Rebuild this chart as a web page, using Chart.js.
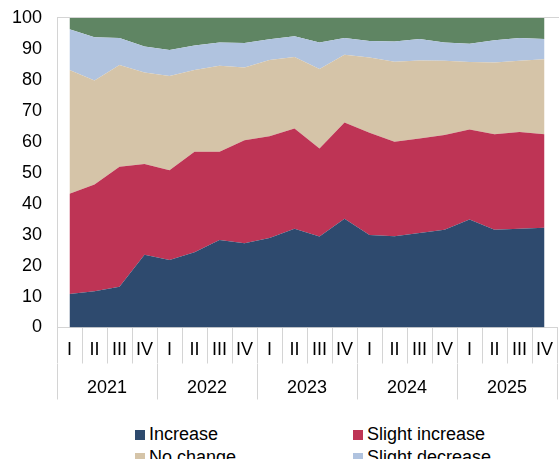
<!DOCTYPE html>
<html>
<head>
<meta charset="utf-8">
<script src="https://cdn.jsdelivr.net/npm/chart.js@4"></script>
<style>
  html, body { margin: 0; padding: 0; overflow: hidden; background: #fff; width: 559px; height: 459px; }
  #wrap { position: relative; width: 559px; height: 459px; }
  #chart { position: absolute; left: 0; top: 0; }
  #legend {
    position: absolute; left: 135px; top: 423px;
    display: grid; grid-template-columns: 218px 200px;
    font: 18px "Liberation Sans", Arial, sans-serif; color: #000;
  }
  .item { display: flex; align-items: center; height: 23px; line-height: 23px; white-space: nowrap; }
  .sw { width: 10px; height: 10px; margin-right: 4px; flex: none; }
</style>
</head>
<body>
<div id="wrap">
  <canvas id="chart" width="559" height="410"></canvas>
  <div id="legend"></div>
</div>
<script>
// Quarters and years on the two-level category axis
const years = ['2021', '2022', '2023', '2024', '2025'];
const quarters = ['I', 'II', 'III', 'IV'];
const yTicks = [0, 10, 20, 30, 40, 50, 60, 70, 80, 90, 100];

// Share of answers per quarter (%), stacked to 100
const increase       = [10.8, 11.7, 13.2, 23.5, 21.8, 24.3, 28.3, 27.2, 28.9, 31.9, 29.4, 35.1, 29.9, 29.5, 30.5, 31.6, 34.9, 31.6, 31.9, 32.2];
const slightIncrease = [32.4, 34.5, 38.7, 29.3, 29.0, 32.5, 28.5, 33.3, 32.9, 32.4, 28.4, 31.1, 33.0, 30.5, 30.6, 30.6, 29.1, 30.8, 31.3, 30.2];
const noChange       = [40.0, 33.6, 32.9, 29.6, 30.5, 26.4, 27.8, 23.5, 24.6, 23.1, 25.7, 21.9, 24.3, 25.9, 25.2, 24.0, 21.8, 23.2, 23.0, 24.3];
const slightDecrease = [13.2, 14.0,  8.7,  8.4,  8.4,  7.9,  7.5,  7.9,  6.7,  6.7,  8.6,  5.4,  5.4,  6.5,  6.9,  5.9,  5.9,  7.2,  7.3,  6.5];
const decrease       = [ 3.6,  6.2,  6.5,  9.2, 10.3,  8.9,  7.9,  8.1,  6.9,  5.9,  7.9,  6.5,  7.4,  7.6,  6.8,  7.9,  8.3,  7.2,  6.5,  6.8];

const seriesNames = ['Increase', 'Slight increase', 'No change', 'Slight decrease', 'Decrease'];
const seriesColors = ['#2E4A6E', '#BE3455', '#D5C4A8', '#B0C3DF', '#5F8563'];
const seriesData = [increase, slightIncrease, noChange, slightDecrease, decrease];

const labels = [];
years.forEach(y => quarters.forEach(q => labels.push(q + ' ' + y)));

const FONT = { family: '"Liberation Sans", Arial, sans-serif', size: 18 };
const lineGrey = '#D4D4D4';

const datasets = seriesData.map((d, i) => ({
  label: seriesNames[i],
  data: d,
  backgroundColor: seriesColors[i],
  borderColor: seriesColors[i],
  borderWidth: 0,
  pointRadius: 0,
  tension: 0,
  fill: i === 0 ? 'origin' : '-1'
}));

// Grey frame line along the top of the plot area
const plotFrame = {
  id: 'plotFrame',
  afterDraw(chart) {
    const { ctx, chartArea } = chart;
    ctx.save();
    ctx.strokeStyle = lineGrey;
    ctx.lineWidth = 1;
    ctx.beginPath();
    ctx.moveTo(chartArea.left, Math.round(chartArea.top) - 0.5);
    ctx.lineTo(chart.width, Math.round(chartArea.top) - 0.5);
    ctx.stroke();
    ctx.restore();
  }
};

new Chart(document.getElementById('chart'), {
  type: 'line',
  data: { labels, datasets },
  plugins: [plotFrame],
  options: {
    responsive: false,
    devicePixelRatio: 1,
    animation: false,
    layout: { padding: { left: 10, top: 18, right: 2, bottom: 10.5 } },
    plugins: { legend: { display: false }, tooltip: { enabled: false } },
    elements: { line: { borderWidth: 0 } },
    scales: {
      x: {
        type: 'category',
        position: 'bottom',
        weight: 0,
        offset: true,
        grid: { drawOnChartArea: false, offset: true, tickLength: 36, color: lineGrey },
        border: { color: lineGrey },
        ticks: {
          autoSkip: false, maxRotation: 0, padding: -24, color: '#000', font: FONT,
          callback: (v, i) => quarters[i % quarters.length]
        },
        afterFit: s => { s.height = 36; }
      },
      x2: {
        type: 'category',
        position: 'bottom',
        weight: 1,
        labels: years,
        offset: true,
        grid: { drawOnChartArea: false, offset: true, tickLength: 36, color: lineGrey },
        border: { display: false },
        ticks: { autoSkip: false, maxRotation: 0, padding: -22, color: '#000', font: FONT },
        afterFit: s => { s.height = 36; }
      },
      y: {
        stacked: true,
        min: yTicks[0],
        max: yTicks[yTicks.length - 1],
        grid: { display: false, drawTicks: true, tickLength: 15 },
        border: { color: lineGrey },
        ticks: { stepSize: yTicks[1] - yTicks[0], padding: 0, color: '#000', font: FONT },
        afterFit: s => { s.width = 47; }
      }
    }
  }
});

// Legend in two columns below the axis
const legend = document.getElementById('legend');
seriesNames.forEach((name, i) => {
  const item = document.createElement('div');
  item.className = 'item';
  const sw = document.createElement('span');
  sw.className = 'sw';
  sw.style.background = seriesColors[i];
  item.appendChild(sw);
  item.appendChild(document.createTextNode(name));
  legend.appendChild(item);
});
</script>
</body>
</html>
